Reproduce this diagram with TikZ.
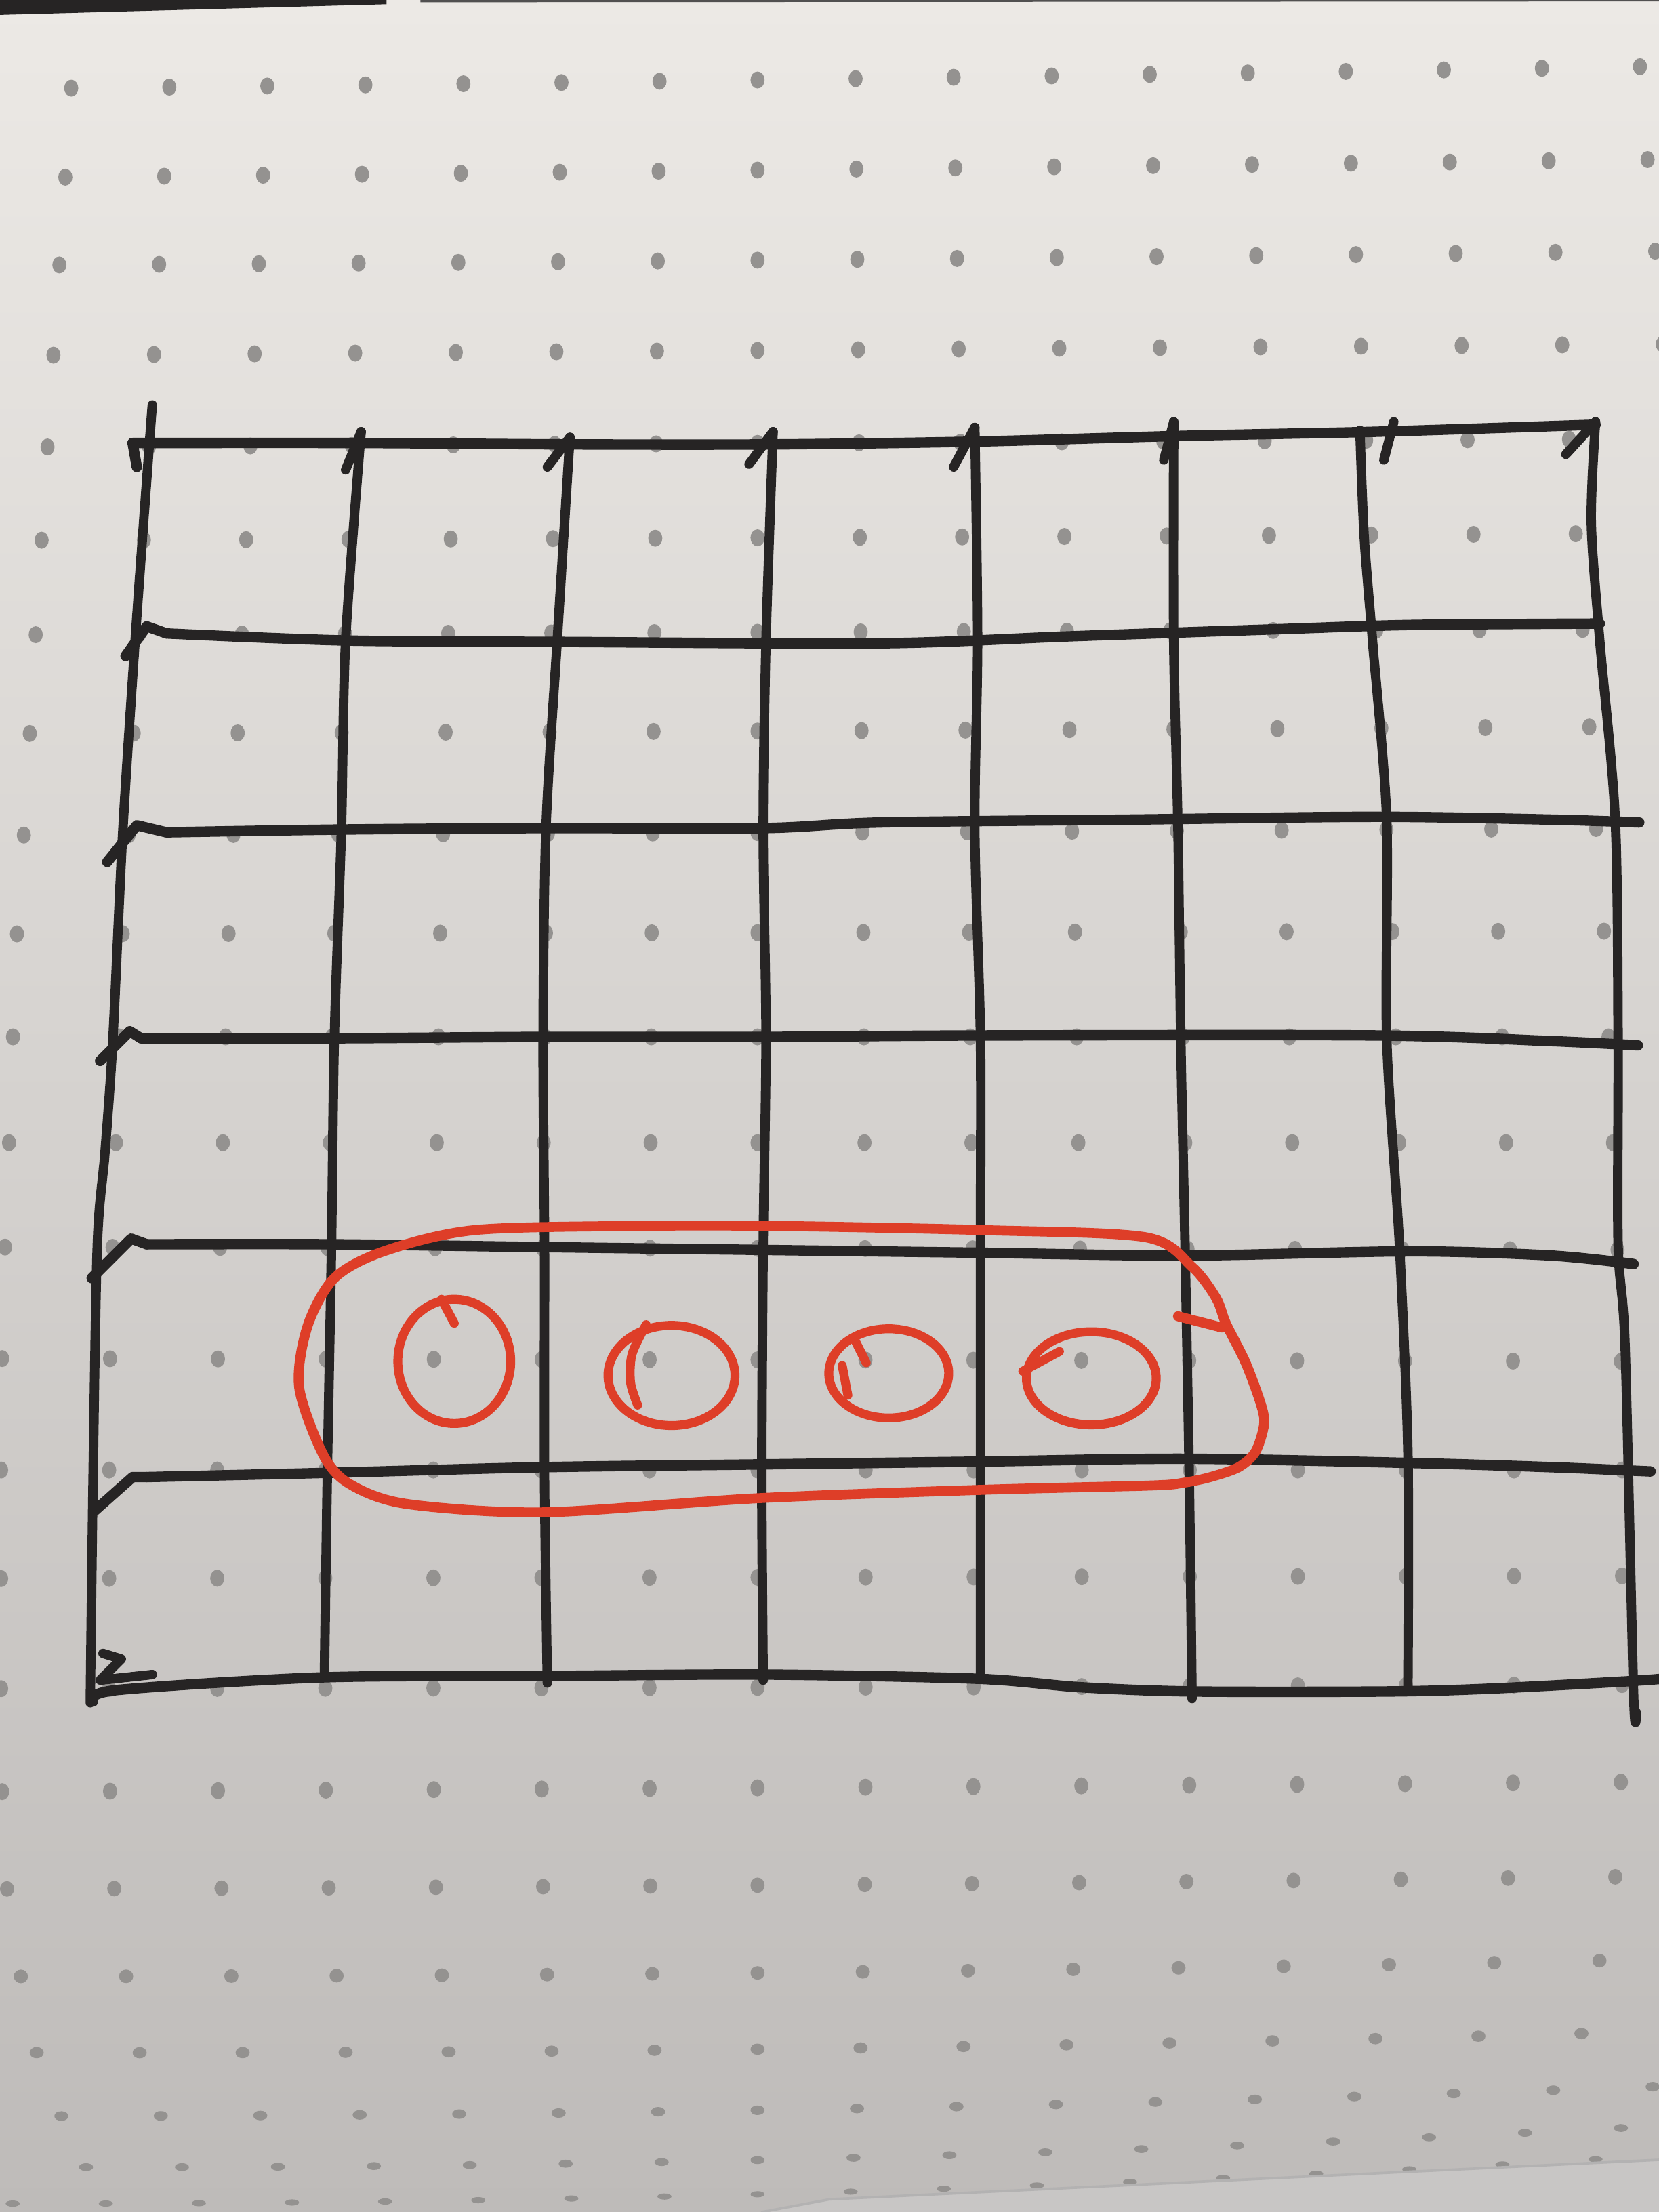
\documentclass[tikz,border=0pt]{standalone}
\definecolor{paper}{RGB}{236,233,229}
\definecolor{papermid}{RGB}{229,227,224}
\definecolor{paperlow}{RGB}{190,187,185}
\definecolor{paperedge}{RGB}{200,198,197}
\definecolor{ink}{RGB}{38,36,36}
\definecolor{redink}{RGB}{222,62,40}
\definecolor{dotgray}{RGB}{148,146,144}
\begin{document}
\begin{tikzpicture}[x=0.01cm, y=-0.01cm, line join=round, line cap=round,
	hline/.style={ink, line width=2.1pt},
	vline/.style={ink, line width=1.9pt},
	redpen/.style={redink, line width=2pt},
	ringpen/.style={redink, line width=1.8pt},
	dot/.style={fill=dotgray}]
	\useasboundingbox (0,0) rectangle (1176,1568);
	\shade[top color=paper, middle color=papermid, bottom color=paperlow] (0,0) rectangle (1176,1568);
	\fill[ink] (0,0) -- (274,0) -- (274,3) -- (0,10.5) -- cycle;
	\fill[ink!80] (298,0) -- (1176,0) -- (1176,1) -- (298,1.6) -- cycle;
	% dotted paper
	\begin{scope}
		\clip (0,0) rectangle (1176,1568);
		\foreach \ya/\yb/\yc/\s/\ry in {63/56/47/69.5/6, 126/120/113/70.1/6, 188/184/178/70.7/6, 252/248/244/71.3/6,
			317/314/311/71.9/6, 383/381/378/72.5/6, 450/448/446/73.1/6, 520/518/515/73.7/6, 592/590/587/74.3/6,
			662/661/660/75/6, 735/735/735/75.4/6, 810/810/810/75.8/6, 884/885/886/76.2/6, 963/964/965/76.5/6,
			1042/1042/1042/76.6/6, 1119/1118/1117/76.6/6, 1197/1196/1194/76.6/6, 1270/1267/1263/76.5/6,
			1339/1336/1330/76/5.5, 1401/1398/1389/74.6/4.8, 1455/1452/1440/73/4, 1500/1495/1479/70.5/3.4,
			1536/1530/1507/68/2.8, 1562/1554/1528/66/2.2}{
			\foreach \k in {-1,...,17}{
				\pgfmathsetmacro\xx{537+\s*(\k-7)}
				\pgfmathsetmacro\u{\xx/1176}
				\pgfmathsetmacro\yy{\ya*(1-\u)*(1-2*\u)+\yb*4*\u*(1-\u)+\yc*\u*(2*\u-1)}
				\fill[dot] (\xx,\yy) ellipse [x radius=5, y radius=\ry];
			}
		}
	\end{scope}
	\fill[paperedge] (540,1568) -- (588,1559) -- (1176,1531) -- (1176,1568) -- cycle;
	\draw[ink!35, line width=0.5pt] (540,1568) -- (588,1559) -- (1176,1531);
	% vertical lines
	\draw[vline] plot[smooth] coordinates {(108,287) (106,313) (96,451) (87,590) (80,737) (74.5,816) (69,882) (66,1047) (64,1207)};
	\draw[vline] (245,333) -- (256,306);
	\draw[vline] plot[smooth] coordinates {(256,306) (245,454) (242,588) (237,736) (235,882) (232,1047) (230,1185)};
	\draw[vline] (388,331) -- (404,310);
	\draw[vline] plot[smooth] coordinates {(404,310) (395,454) (387,588) (385,736) (386,882) (386,1047) (388,1193)};
	\draw[vline] (531,329) -- (548,306);
	\draw[vline] plot[smooth] coordinates {(548,306) (543,454) (541,588) (543,736) (541,882) (540,1047) (541,1191)};
	\draw[vline] (676,331) -- (691,303);
	\draw[vline] plot[smooth] coordinates {(691,303) (693,454) (691,588) (695,736) (695,882) (695,1047) (695,1190)};
	\draw[vline] (825,326) -- (832,299);
	\draw[vline] plot[smooth] coordinates {(832,299) (832,454) (835,588) (837,736) (840,882) (843,1047) (845,1204)};
	\draw[vline] (988,299) -- (981,326);
	\draw[vline] plot[smooth] coordinates {(964,305) (967,380) (973,455) (983,581) (983,736) (992,882) (998,1030) (998,1195)};
	\draw[vline] (1110,322) -- (1131,299);
	\draw[vline] plot[smooth] coordinates {(1131,299) (1128,370) (1134,454) (1145,581) (1147,736) (1147,882) (1152,955) (1158,1201) (1160,1214)};
	% horizontal lines
	\draw[hline] (97,331) -- (94,314);
	\draw[hline] plot[smooth] coordinates {(94,314) (256,314) (404,315) (548,315) (691,313) (835,309) (976,306) (1131,301)};
	\draw[hline] (89,465) -- (104,444) -- (118,449);
	\draw[hline] plot[smooth] coordinates {(118,449) (245,454) (400,455) (624,456) (760,451) (906,446) (1000,443) (1134,442)};
	\draw[hline] (76,611) -- (97,585) -- (118,590);
	\draw[hline] plot[smooth] coordinates {(118,590) (242,588) (386,587) (541,587) (624,583) (800,581) (976,579) (1100,581) (1162,583)};
	\draw[hline] (71,752) -- (92,731) -- (100,736);
	\draw[hline] plot[smooth] coordinates {(100,736) (238,736) (385,735) (543,735) (695,734) (976,734) (1100,738) (1161,741)};
	\draw[hline] (65,906) -- (93,878) -- (104,882);
	\draw[hline] plot[smooth] coordinates {(104,882) (235,882) (385,884) (540,886) (695,888) (840,890) (1000,887) (1100,890) (1158,896)};
	\draw[hline] (67,1071) -- (94,1047) -- (104,1047);
	\draw[hline] plot[smooth] coordinates {(104,1047) (232,1044) (385,1040) (540,1038) (695,1036) (840,1034) (1000,1037) (1100,1040) (1170,1043)};
	\draw[vline] (73,1172) -- (86,1176) -- (71,1191) -- (108,1187);
	\draw[hline] plot[smooth] coordinates {(66,1206) (83,1198) (229,1189) (388,1188) (541,1187) (693,1190) (766,1196) (846,1199) (984,1199) (1056,1197) (1150,1192) (1178,1190)};
	% red loop round the four rings
	\draw[redpen] plot[smooth cycle] coordinates {(237,906) (272,887) (336,872) (450,869) (550,869) (698,872) (812,877) (845,898) (862,920)
		(869,938) (883,966) (894,996) (896,1010) (890,1029) (878,1040) (858,1047) (839,1051) (816,1053) (698,1056) (537,1062)
		(385,1072) (288,1066) (248,1052) (229,1031) (212,983) (218,940)};
	\draw[redpen] (835,933) -- (866,941);
	\draw[ringpen] (322,965) ellipse [x radius=40, y radius=44];
	\draw[ringpen] (313,921) -- (322,938);
	\draw[ringpen] (476,975) ellipse [x radius=45, y radius=35.5];
	\draw[ringpen] plot[smooth] coordinates {(458,939) (448,960) (447,980) (452,996)};
	\draw[ringpen] (630,973.5) ellipse [x radius=42.5, y radius=31.6];
	\draw[ringpen] (606,950) -- (614,966);
	\draw[ringpen] (597,968) -- (601,989);
	\draw[ringpen] (773.6,977) ellipse [x radius=46, y radius=33];
	\draw[ringpen] (725,972) -- (751,958);
\end{tikzpicture}
\end{document}
